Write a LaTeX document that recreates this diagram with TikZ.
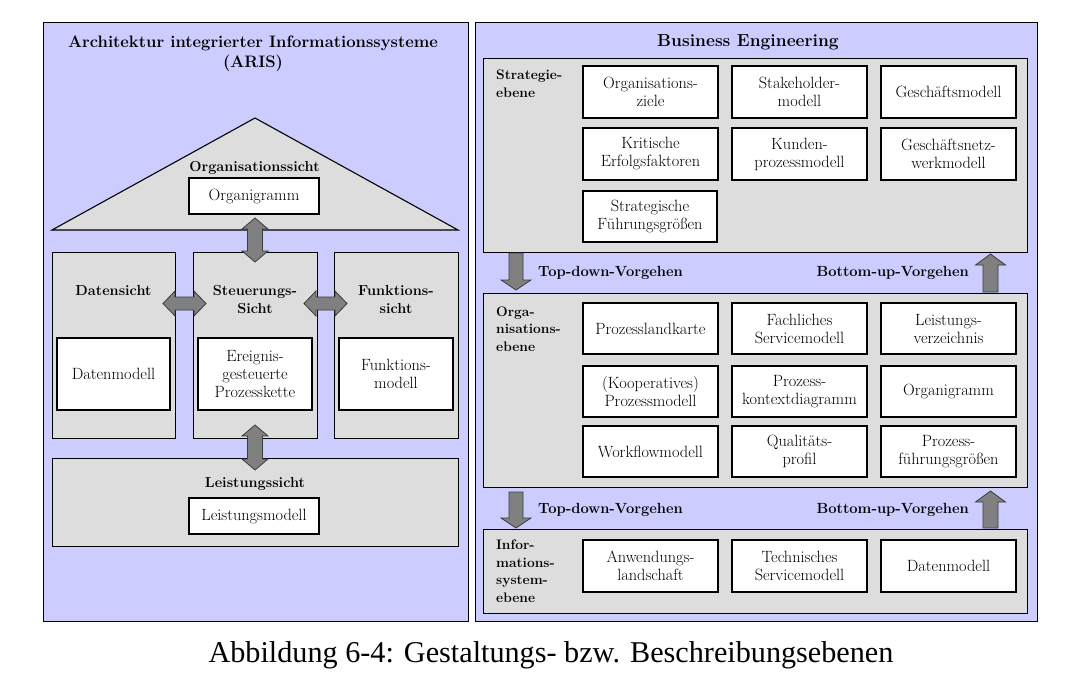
\documentclass[tikz,border=0pt]{standalone}
\usepackage{fontspec}
\newfontfamily\capfont{Liberation Serif}
\definecolor{lav}{RGB}{204,204,255}
\definecolor{blockgray}{RGB}{221,221,221}
\definecolor{arrowgray}{RGB}{128,128,128}
\definecolor{arrowborder}{RGB}{60,60,60}
% double vertical block arrow: x, y-top, y-bottom, shaft half, head half, head length
\newcommand{\VDarrow}[6]{\path[blockarrow] (#1,#2) -- ({#1+#5},{#2+#6}) -- ({#1+#4},{#2+#6}) -- ({#1+#4},{#3-#6}) -- ({#1+#5},{#3-#6}) -- (#1,#3) -- ({#1-#5},{#3-#6}) -- ({#1-#4},{#3-#6}) -- ({#1-#4},{#2+#6}) -- ({#1-#5},{#2+#6}) -- cycle;}
% double horizontal block arrow: y, x-left, x-right, shaft half, head half, head length
\newcommand{\HDarrow}[6]{\path[blockarrow] (#2,#1) -- ({#2+#6},{#1-#5}) -- ({#2+#6},{#1-#4}) -- ({#3-#6},{#1-#4}) -- ({#3-#6},{#1-#5}) -- (#3,#1) -- ({#3-#6},{#1+#5}) -- ({#3-#6},{#1+#4}) -- ({#2+#6},{#1+#4}) -- ({#2+#6},{#1+#5}) -- cycle;}
% down block arrow: x, y-top, y-tip
\newcommand{\DownBlk}[6]{\path[blockarrow] ({#1-#4},#2) -- ({#1+#4},#2) -- ({#1+#4},{#3-#6}) -- ({#1+#5},{#3-#6}) -- (#1,#3) -- ({#1-#5},{#3-#6}) -- ({#1-#4},{#3-#6}) -- cycle;}
% up block arrow: x, y-tip, y-bottom
\newcommand{\UpBlk}[6]{\path[blockarrow] (#1,#2) -- ({#1+#5},{#2+#6}) -- ({#1+#4},{#2+#6}) -- ({#1+#4},#3) -- ({#1-#4},#3) -- ({#1-#4},{#2+#6}) -- ({#1-#5},{#2+#6}) -- cycle;}
\begin{document}
\begin{tikzpicture}[x=1pt,y=-1pt,
  panel/.style={draw=black, fill=lav, line width=1.1pt, anchor=north west, inner sep=0pt},
  block/.style={draw=black, fill=blockgray, line width=1.1pt, anchor=north west, inner sep=0pt},
  wbox/.style={draw=black, fill=white, line width=1.3pt, inner sep=0pt, align=center, font=\fontsize{16.3}{18}\selectfont},
  lbl/.style={font=\bfseries\fontsize{14.5}{18.5}\selectfont, align=center, inner sep=0pt},
  sidelbl/.style={font=\bfseries\fontsize{13.8}{17.5}\selectfont, align=left, anchor=base west, inner sep=0pt},
  flowlbl/.style={font=\bfseries\fontsize{14.7}{17}\selectfont, inner sep=0pt},
  ttl/.style={font=\bfseries\fontsize{16.6}{20}\selectfont, align=center, inner sep=0pt, anchor=base},
  blockarrow/.style={draw=arrowborder, fill=arrowgray, line width=0.8pt},
]
\useasboundingbox[fill=white] (0,0) rectangle (1083,678);

%% ---------------- left panel: ARIS ----------------
\node[panel, minimum width=425pt, minimum height=599pt] (lp) at (43,22) {};
\node[ttl] (lt) at (253,67) {Architektur integrierter Informationssysteme\\(ARIS)};

\path[draw=black, fill=blockgray, line width=1.1pt] (255,118) -- (458,230) -- (52,230) -- cycle;
\node[lbl] (orgs) at (254.5,168) {Organisationssicht};
\node[wbox, minimum width=130pt, minimum height=36pt] (orgm) at (254,196) {Organigramm};

\node[block, minimum width=123pt, minimum height=186pt] (dat) at (52,252) {};
\node[block, minimum width=124pt, minimum height=186pt] (steu) at (193,252) {};
\node[block, minimum width=124pt, minimum height=186pt] (fkt) at (334,252) {};
\node[lbl] (datl) at (113.5,291) {Datensicht};
\node[lbl] (steul) at (255,299.5) {Steuerungs-\\Sicht};
\node[lbl] (fktl) at (396,299.5) {Funktions-\\sicht};
\node[wbox, minimum width=113pt, minimum height=72pt] (datm) at (113.5,374) {Datenmodell};
\node[wbox, minimum width=114pt, minimum height=72pt] (epk) at (255,374) {Ereignis-\\gesteuerte\\Prozesskette};
\node[wbox, minimum width=114pt, minimum height=72pt] (fktm) at (396,374) {Funktions-\\modell};

\node[block, minimum width=406pt, minimum height=88pt] (leis) at (52,458) {};
\node[lbl] (leisl) at (255,484) {Leistungssicht};
\node[wbox, minimum width=130pt, minimum height=36pt] (leism) at (254,516) {Leistungsmodell};

\VDarrow{255}{218}{262}{7.5}{13}{11}
\VDarrow{255}{425}{470}{7.5}{13}{11}
\HDarrow{303.5}{163}{206}{6.5}{12.5}{12}
\HDarrow{303.5}{304}{347}{6.5}{12.5}{12}

%% ---------------- right panel: Business Engineering ----------------
\node[panel, minimum width=562pt, minimum height=599pt] (rp) at (475,22) {};
\node[ttl, font=\bfseries\fontsize{17.4}{20}\selectfont] (rt) at (748,46) {Business Engineering};

% Strategieebene
\node[block, minimum width=544pt, minimum height=194pt] (str) at (483,58) {};
\node[sidelbl] (strl) at (496,97) {Strategie-\\ebene};
\node[wbox, minimum width=135pt, minimum height=52pt] (s11) at (650.5,92) {Organisations-\\ziele};
\node[wbox, minimum width=135pt, minimum height=52pt] (s12) at (799.5,92) {Stakeholder-\\modell};
\node[wbox, minimum width=135pt, minimum height=52pt] (s13) at (948.5,92) {Geschäftsmodell};
\node[wbox, minimum width=135pt, minimum height=52pt] (s21) at (650.5,154) {Kritische\\Erfolgsfaktoren};
\node[wbox, minimum width=135pt, minimum height=52pt] (s22) at (799.5,154) {Kunden-\\prozessmodell};
\node[wbox, minimum width=135pt, minimum height=52pt] (s23) at (948.5,154) {Geschäftsnetz-\\werkmodell};
\node[wbox, minimum width=134pt, minimum height=51pt] (s31) at (650,216.5) {Strategische\\Führungsgrößen};

\DownBlk{516}{253}{290}{7}{15}{10}
\UpBlk{990.5}{254}{292}{7.5}{15}{11}
\node[flowlbl, anchor=west] (td1) at (538,273) {Top-down-Vorgehen};
\node[flowlbl, anchor=east] (bu1) at (969,273) {Bottom-up-Vorgehen};

% Organisationsebene
\node[block, minimum width=544pt, minimum height=194pt] (org) at (483,293) {};
\node[sidelbl] (orgl) at (496,351) {Orga-\\nisations-\\ebene};
\node[wbox, minimum width=135pt, minimum height=51pt] (o11) at (650.5,328.5) {Prozesslandkarte};
\node[wbox, minimum width=135pt, minimum height=51pt] (o12) at (799.5,328.5) {Fachliches\\Servicemodell};
\node[wbox, minimum width=135pt, minimum height=51pt] (o13) at (948.5,328.5) {Leistungs-\\verzeichnis};
\node[wbox, minimum width=135pt, minimum height=51pt] (o21) at (650.5,391.5) {(Kooperatives)\\Prozessmodell};
\node[wbox, minimum width=135pt, minimum height=51pt] (o22) at (799.5,391.5) {Prozess-\\kontextdiagramm};
\node[wbox, minimum width=135pt, minimum height=51pt] (o23) at (948.5,391.5) {Organigramm};
\node[wbox, minimum width=135pt, minimum height=51pt] (o31) at (650.5,451.5) {Workflowmodell};
\node[wbox, minimum width=135pt, minimum height=51pt] (o32) at (799.5,451.5) {Qualitäts-\\profil};
\node[wbox, minimum width=135pt, minimum height=51pt] (o33) at (948.5,451.5) {Prozess-\\führungsgrößen};

\DownBlk{516}{492}{528}{7}{15}{10}
\UpBlk{990.5}{491}{528}{7.5}{15}{11}
\node[flowlbl, anchor=west] (td2) at (538,510) {Top-down-Vorgehen};
\node[flowlbl, anchor=east] (bu2) at (969,510) {Bottom-up-Vorgehen};

% Informationssystemebene
\node[block, minimum width=544pt, minimum height=84pt] (inf) at (483,529) {};
\node[sidelbl] (infl) at (496,602) {Infor-\\mations-\\system-\\ebene};
\node[wbox, minimum width=135pt, minimum height=52pt] (i1) at (650.5,566) {Anwendungs-\\landschaft};
\node[wbox, minimum width=135pt, minimum height=52pt] (i2) at (799.5,566) {Technisches\\Servicemodell};
\node[wbox, minimum width=135pt, minimum height=52pt] (i3) at (948.5,566) {Datenmodell};

%% ---------------- caption ----------------
\node[font=\capfont\fontsize{30.2}{34}\selectfont, anchor=base, inner sep=0pt] (cap) at (551,662) {Abbildung 6-4: Gestaltungs- bzw. Beschreibungsebenen};
\end{tikzpicture}
\end{document}
